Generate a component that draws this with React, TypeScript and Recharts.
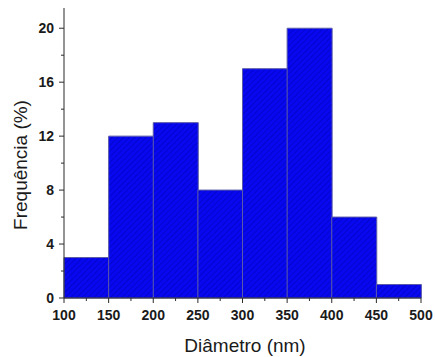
import React from "react";
import { BarChart, Bar, XAxis, YAxis } from "recharts";

// histogram bins (nm) and frequencies (%)
const binStart = [100, 150, 200, 250, 300, 350, 400, 450];
const binEnd = [150, 200, 250, 300, 350, 400, 450, 500];
const freq = [3, 12, 13, 8, 17, 20, 6, 1];
const xTicks = [100, 125, 150, 175, 200, 225, 250, 275, 300, 325, 350, 375, 400, 425, 450, 475, 500];
const yTicks = [0, 2, 4, 6, 8, 10, 12, 14, 16, 18, 20];

const data = binStart.map((s, i) => ({
  bin: `${s}-${binEnd[i]}`,
  mid: (s + binEnd[i]) / 2,
  freq: freq[i],
}));

const AXIS = "#2b2b2b";
const FONT = "'Liberation Sans', Arial, sans-serif";

function XTick({ x, y, payload }: any) {
  const major = payload.value % 50 === 0;
  return (
    <g>
      <line x1={x} y1={y} x2={x} y2={y + (major ? 5 : 3)} stroke={AXIS} />
      {major && (
        <text x={x} y={y + 22} textAnchor="middle" fontSize={14} fontWeight="bold" fill="#1a1a1a" fontFamily={FONT}>
          {payload.value}
        </text>
      )}
    </g>
  );
}

function YTick({ x, y, payload }: any) {
  const major = payload.value % 4 === 0;
  return (
    <g>
      <line x1={x} y1={y} x2={x - (major ? 5 : 3)} y2={y} stroke={AXIS} />
      {major && (
        <text x={x - 10} y={y + 5} textAnchor="end" fontSize={14} fontWeight="bold" fill="#1a1a1a" fontFamily={FONT}>
          {payload.value}
        </text>
      )}
    </g>
  );
}

export default function App() {
  return (
    <div style={{ position: "absolute", left: 0, top: 0, width: 435, height: 357, background: "#fff" }}>
      <BarChart
        width={435}
        height={357}
        data={data}
        margin={{ top: 8, right: 14, left: 14, bottom: 14 }}
        barCategoryGap={0}
        barGap={0}
      >
        <defs>
          <pattern id="hatch" patternUnits="userSpaceOnUse" width="4" height="4" patternTransform="rotate(45)">
            <rect width="4" height="4" fill="#0808f0" />
            <line x1="0" y1="0" x2="0" y2="4" stroke="#0000b4" strokeWidth="1.1" />
          </pattern>
        </defs>
        <XAxis xAxisId="cat" dataKey="bin" orientation="top" height={0} hide />
        <XAxis
          xAxisId="num"
          dataKey="mid"
          type="number"
          domain={[100, 500]}
          allowDataOverflow
          ticks={xTicks}
          interval={0}
          tickSize={0}
          tickMargin={0}
          tickLine={false}
          tick={<XTick />}
          axisLine={{ stroke: AXIS }}
          height={45}
        />
        <YAxis
          type="number"
          domain={[0, 21.5]}
          ticks={yTicks}
          interval={0}
          tickSize={0}
          tickMargin={0}
          tickLine={false}
          tick={<YTick />}
          axisLine={{ stroke: AXIS }}
          width={50}
        />
        <Bar
          xAxisId="cat"
          dataKey="freq"
          fill="url(#hatch)"
          stroke="#5a5aa8"
          strokeWidth={1}
          isAnimationActive={false}
        />
        <text x={245} y={352} textAnchor="middle" fontSize={19} fill="#1a1a1a" fontFamily={FONT}>
          Diâmetro (nm)
        </text>
        <text
          x={26.5}
          y={165}
          textAnchor="middle"
          fontSize={19}
          fill="#1a1a1a"
          fontFamily={FONT}
          transform="rotate(-90 26.5 165)"
        >
          Frequência (%)
        </text>
      </BarChart>
    </div>
  );
}
